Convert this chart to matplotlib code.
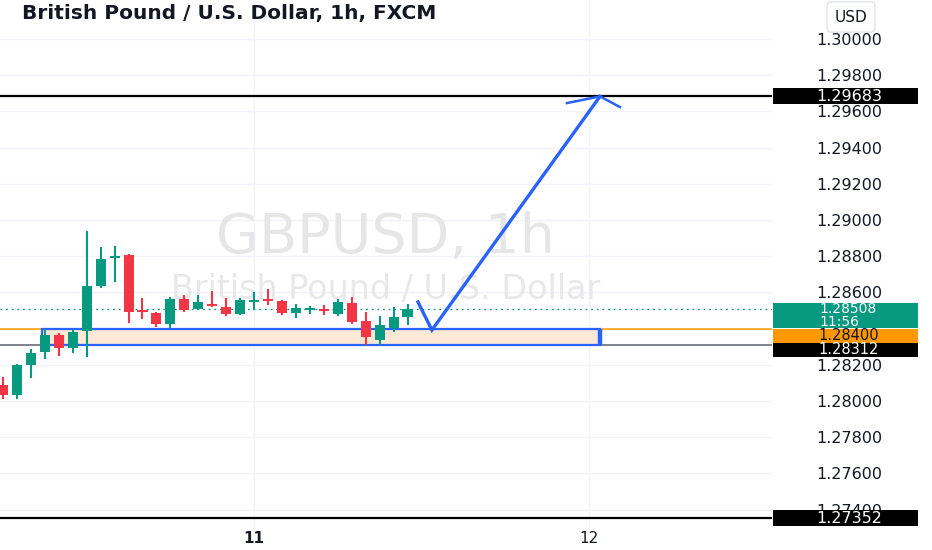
import matplotlib
matplotlib.use('Agg')
import matplotlib.pyplot as plt
from matplotlib.patches import Rectangle
from matplotlib.transforms import blended_transform_factory

# GBPUSD 1h candles (oldest first)
opens = [1.28088, 1.28033, 1.28199, 1.28271, 1.28365, 1.28293, 1.28387, 1.28635,
         1.28790, 1.28807, 1.28503, 1.28486, 1.28425, 1.28564, 1.28508, 1.28536,
         1.28519, 1.28481, 1.28547, 1.28564, 1.28552, 1.28486, 1.28503, 1.28508,
         1.28481, 1.28541, 1.28442, 1.28337, 1.28403, 1.28464]
highs = [1.28133, 1.28205, 1.28287, 1.28398, 1.28376, 1.28392, 1.28939, 1.28851,
         1.28856, 1.28810, 1.28569, 1.28490, 1.28575, 1.28586, 1.28586, 1.28608,
         1.28569, 1.28569, 1.28602, 1.28619, 1.28558, 1.28536, 1.28525, 1.28530,
         1.28564, 1.28575, 1.28492, 1.28470, 1.28519, 1.28536]
lows = [1.28011, 1.28011, 1.28127, 1.28232, 1.28249, 1.28265, 1.28243, 1.28624,
        1.28657, 1.28431, 1.28453, 1.28409, 1.28403, 1.28492, 1.28503, 1.28519,
        1.28470, 1.28475, 1.28503, 1.28530, 1.28475, 1.28459, 1.28481, 1.28475,
        1.28470, 1.28425, 1.28309, 1.28309, 1.28381, 1.28420]
closes = [1.28033, 1.28199, 1.28265, 1.28365, 1.28293, 1.28381, 1.28635, 1.28785,
          1.28801, 1.28492, 1.28492, 1.28425, 1.28564, 1.28503, 1.28547, 1.28525,
          1.28481, 1.28558, 1.28552, 1.28552, 1.28486, 1.28514, 1.28508, 1.28497,
          1.28547, 1.28436, 1.28354, 1.28420, 1.28464, 1.28508]
hours = list(range(len(opens)))

price_ticks = [1.274, 1.276, 1.278, 1.280, 1.282, 1.284, 1.286,
               1.288, 1.290, 1.292, 1.294, 1.296, 1.298, 1.300]
day_ticks = [18, 42]
day_labels = ['11', '12']

target = 1.29683
low_line = 1.27352
zone_top = 1.28400
zone_bottom = 1.28312
last_price = 1.28508
countdown = '11:56'

# drawings: demand zone and the projected path
zone_start, zone_end = 2.8, 42.8
path_x = [29.75, 30.75, 42.8]
path_y = [1.28547, 1.28392, 1.29683]
head_x = [40.43, 42.8, 44.23]
head_y = [1.29646, 1.29683, 1.29624]

GREEN = '#089981'
RED = '#f23645'
BLUE = '#2962ff'
TXT = '#131722'

fig = plt.figure(figsize=(9.32, 5.5), dpi=100)
ax = fig.add_axes([0, 0.0418, 0.8283, 0.9582])
ax.set_xlim(-0.215, 55.13)
ax.set_ylim(1.273039, 1.302155)
for s in ax.spines.values():
    s.set_visible(False)

px = (1.302155 - 1.273039) / 527.0   # price per pixel

# grid
for t in price_ticks:
    ax.axhline(t, color='#f0f3fa', lw=1, zorder=0)
for d in day_ticks:
    ax.axvline(d, color='#f0f3fa', lw=1, zorder=0)

# watermark
ax.text(0.5, 0.52, 'GBPUSD, 1h', transform=ax.transAxes, ha='center', va='baseline',
        fontsize=40, color='#e6e6e6', zorder=0.5)
ax.text(0.5, 0.4326, 'British Pound / U.S. Dollar', transform=ax.transAxes, ha='center',
        va='baseline', fontsize=24, color='#e8e8e8', zorder=0.5)

# horizontal levels
ax.axhline(target, color='black', lw=1.6, zorder=3)
ax.axhline(low_line, color='black', lw=1.6, zorder=3)
ax.axhline(zone_top, color='#ff9800', lw=1.1, zorder=2)
ax.axhline(zone_bottom, color='#5d606b', lw=1.1, zorder=2)
ax.axhline(last_price, color=GREEN, lw=0.9, ls=(0, (1.5, 3)), zorder=2)

# zone box
ax.add_patch(Rectangle((zone_start, zone_bottom), zone_end - zone_start, zone_top - zone_bottom,
                       fc='#fce8d4', ec=BLUE, lw=1.6, zorder=2.5))
ax.plot([zone_end, zone_end], [zone_bottom, zone_top], color=BLUE, lw=3.2, zorder=2.6,
        solid_capstyle='butt')

# candles
colors = [GREEN if c >= o else RED for o, c in zip(opens, closes)]
bottoms = [min(o, c) for o, c in zip(opens, closes)]
heights = [max(abs(c - o), 2 * px) for o, c in zip(opens, closes)]
ax.vlines(hours, lows, highs, colors=colors, lw=1.5, zorder=4)
ax.bar(hours, heights, bottom=bottoms, width=0.72, color=colors, zorder=4)

# projected path
ax.plot(path_x, path_y, color=BLUE, lw=2.4, solid_joinstyle='miter', zorder=5)
ax.plot(head_x, head_y, color=BLUE, lw=1.8, zorder=5)

# axes ticks (1.28400 sits under the orange tag)
ax.yaxis.tick_right()
ax.set_yticks(price_ticks)
ax.set_yticklabels(['' if abs(t - zone_top) < 1e-9 else '%.5f' % t for t in price_ticks])
ax.tick_params(axis='y', length=0, pad=55.4, labelsize=11.5, labelcolor=TXT)
for lab in ax.get_yticklabels():
    lab.set_ha('center')
ax.set_xticks(day_ticks)
ax.set_xticklabels(day_labels)
ax.tick_params(axis='x', length=0, pad=3, labelsize=11, labelcolor=TXT)
ax.get_xticklabels()[0].set_fontweight('bold')

# price tags on the scale
trans = blended_transform_factory(ax.transAxes, ax.transData)
x0 = 773 / 772.0
w = 145 / 772.0
xc = 849 / 772.0


def tag(value, top, bottom, face, text, text_dy, color='white', size=11.5):
    ax.add_patch(Rectangle((x0, value - bottom * px), w, (bottom - top) * px, transform=trans,
                           fc=face, ec='none', clip_on=False, zorder=20))
    ax.text(xc, value - text_dy * px, text, transform=trans, ha='center', va='center',
            fontsize=size, color=color, clip_on=False, zorder=21)


tag(target, -8, 8, 'black', '%.5f' % target, 0)
tag(low_line, -8, 8, 'black', '%.5f' % low_line, 0)
ax.add_patch(Rectangle((x0, last_price - 19 * px), w, 25 * px, transform=trans,
                       fc=GREEN, ec='none', clip_on=False, zorder=20))
ax.text(819 / 772.0, last_price - 6.5 * px, '%.5f\n%s' % (last_price, countdown),
        transform=trans, ha='left', va='center', fontsize=10, linespacing=0.95,
        color='white', clip_on=False, zorder=21)
tag(zone_top, 0, 14, '#ff9800', '%.5f' % zone_top, 7, color=TXT, size=10.5)
tag(zone_bottom, -2, 12, 'black', '%.5f' % zone_bottom, 5, size=10.5)

# title and currency box
fig.text(22 / 932.0, 1 - 14 / 550.0, 'British Pound / U.S. Dollar, 1h, FXCM', ha='left',
         va='center', fontsize=14.5, fontweight='bold', color=TXT)
fig.text(851 / 932.0, 1 - 17 / 550.0, 'USD', ha='center', va='center', fontsize=11, color=TXT,
         bbox=dict(boxstyle='round,pad=0.5,rounding_size=0.3', fc='white', ec='#e0e3eb', lw=1))

fig.savefig('out.png', dpi=100)
